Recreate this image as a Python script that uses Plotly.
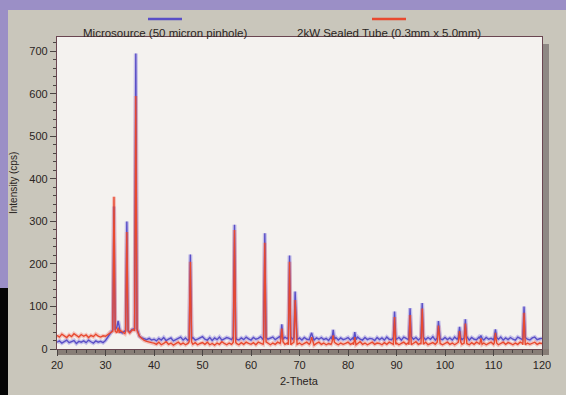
import plotly.graph_objects as go

# ---------------- data ----------------
series_names = ["Microsource (50 micron pinhole)", "2kW Sealed Tube (0.3mm x 5.0mm)"]

grid_start = 20.0
grid_step = 0.5

micro_baseline = [
    16, 19, 14, 18, 21, 15, 17, 20, 13, 18, 16, 19, 15, 21, 17, 14, 19, 16, 18, 15,
    20, 28, 38, 42, 45, 52, 40, 38, 42, 44, 40, 46, 48, 35, 30, 26, 24, 22, 25, 21,
    23, 19, 25, 21, 27, 20, 23, 26, 19, 22, 25, 28, 21, 26, 20, 24, 27, 21, 23, 26,
    29, 23, 21, 27, 20, 26, 22, 28, 21, 24, 27, 25, 22, 29, 23, 21, 26, 22, 28, 24,
    21, 27, 23, 25, 29, 22, 27, 23, 25, 28, 22, 26, 30, 23, 28, 24, 29, 23, 27, 22,
    26, 21, 27, 23, 22, 28, 21, 26, 23, 27, 22, 25, 20, 28, 23, 27, 21, 26, 22, 24,
    27, 21, 26, 22, 28, 23, 21, 27, 22, 25, 24, 20, 27, 22, 26, 21, 28, 23, 22, 27,
    23, 27, 21, 28, 25, 22, 29, 23, 27, 21, 26, 28, 22, 27, 23, 29, 21, 26, 24, 22,
    27, 22, 26, 21, 28, 23, 27, 22, 26, 29, 21, 27, 23, 22, 28, 25, 21, 27, 23, 25,
    22, 27, 23, 28, 21, 26, 22, 27, 23, 21, 28, 25, 22, 27, 23, 21, 26, 28, 22, 24,
    25,
]

sealed_baseline = [
    32, 28, 35, 30, 27, 33, 29, 36, 31, 28, 34, 30, 33, 27, 32, 29, 35, 30, 28, 31,
    30, 34, 40, 46, 42, 38, 44, 40, 36, 42, 38, 45, 44, 40, 30, 24, 20, 18, 16, 15,
    14, 11, 16, 10, 13, 17, 11, 14, 9, 13, 16, 11, 14, 10, 13, 17, 11, 15, 10, 13,
    15, 11, 16, 10, 13, 9, 14, 11, 17, 13, 10, 14, 11, 16, 13, 10, 15, 11, 16, 13,
    11, 15, 10, 16, 13, 11, 17, 13, 10, 14, 11, 16, 13, 17, 11, 14, 10, 13, 16, 11,
    14, 10, 13, 16, 11, 15, 9, 13, 16, 11, 14, 10, 13, 11, 16, 13, 10, 14, 11, 13,
    16, 11, 14, 10, 13, 17, 11, 14, 10, 13, 16, 11, 14, 13, 10, 15, 11, 16, 13, 11,
    14, 10, 13, 16, 11, 15, 10, 13, 17, 11, 14, 11, 16, 10, 13, 15, 11, 16, 13, 10,
    13, 16, 11, 14, 10, 13, 16, 11, 14, 13, 10, 15, 11, 16, 13, 11, 14, 10, 13, 16,
    11, 14, 10, 13, 16, 11, 15, 13, 10, 14, 11, 16, 13, 10, 14, 11, 13, 16, 11, 14,
    13,
]

peak_positions = [31.75, 32.6, 34.4, 36.25, 47.5, 56.6, 62.85, 66.35, 67.95, 69.1, 72.5,
                  76.95, 81.4, 89.6, 92.8, 95.3, 98.65, 103.0, 104.2, 107.4, 110.4, 116.3]
micro_peaks = [335, 66, 300, 695, 222, 292, 272, 58, 220, 135, 38,
               45, 40, 88, 96, 108, 66, 52, 70, 32, 46, 100]
sealed_peaks = [358, 50, 275, 595, 205, 280, 250, 48, 205, 115, 28,
                32, 28, 75, 80, 95, 55, 42, 60, 25, 38, 85]

x_ticks = [20, 30, 40, 50, 60, 70, 80, 90, 100, 110, 120]
y_ticks = [0, 100, 200, 300, 400, 500, 600, 700]

# ---------------- build traces ----------------
HALF = 0.25


def build(baseline, heights):
    pts = []
    for i, v in enumerate(baseline):
        x = grid_start + i * grid_step
        if any(abs(x - c) <= HALF + 0.02 for c in peak_positions):
            continue
        pts.append((x, v))
    for c, h in zip(peak_positions, heights):
        idx = int(round((c - grid_start) / grid_step))
        b = baseline[idx]
        pts.append((c - HALF, b))
        pts.append((c, h))
        pts.append((c + HALF, b))
    pts.sort()
    return [p[0] for p in pts], [p[1] for p in pts]


mx, my = build(micro_baseline, micro_peaks)
sx, sy = build(sealed_baseline, sealed_peaks)

BLUE = "#5a4fc6"
RED = "#e8492f"

fig = go.Figure()
fig.add_trace(go.Scatter(x=mx, y=my, mode="lines", line=dict(color="rgba(140,130,225,0.45)", width=4),
                         hoverinfo="skip", showlegend=False))
fig.add_trace(go.Scatter(x=sx, y=sy, mode="lines", line=dict(color="rgba(240,140,130,0.45)", width=4),
                         hoverinfo="skip", showlegend=False))
fig.add_trace(go.Scatter(x=mx, y=my, mode="lines", name=series_names[0],
                         line=dict(color=BLUE, width=1.4), showlegend=False))
fig.add_trace(go.Scatter(x=sx, y=sy, mode="lines", name=series_names[1],
                         line=dict(color=RED, width=1.4), showlegend=False))

# ---------------- layout ----------------
L, R, T, B = 57, 24, 37, 46
W, H = 566, 395
PW, PH = W - L - R, H - T - B


def px(p):
    return (p - L) / PW


def py(p):
    return (T + PH - p) / PH


FONT = "Liberation Sans, Arial, sans-serif"
TXT = "#2a2422"

shapes = [
    dict(type="rect", xref="paper", yref="paper", x0=px(-20), x1=px(W + 20), y0=py(10), y1=py(-20),
         fillcolor="#9b8fc6", line=dict(width=0), layer="below"),
    dict(type="rect", xref="paper", yref="paper", x0=px(-20), x1=px(8), y0=py(288), y1=py(10),
         fillcolor="#9b8fc6", line=dict(width=0), layer="below"),
    dict(type="rect", xref="paper", yref="paper", x0=px(-20), x1=px(8), y0=py(H + 20), y1=py(288),
         fillcolor="#050505", line=dict(width=0), layer="below"),
    dict(type="rect", xref="paper", yref="paper", x0=px(542), x1=px(549), y0=py(355), y1=py(44),
         fillcolor="#8e8884", line=dict(width=0), layer="below"),
    dict(type="rect", xref="paper", yref="paper", x0=px(57), x1=px(549), y0=py(355), y1=py(349),
         fillcolor="#877d76", line=dict(width=0), layer="below"),
    dict(type="line", xref="paper", yref="paper", x0=px(148), x1=px(182), y0=py(19), y1=py(19),
         line=dict(color=BLUE, width=2.5)),
    dict(type="line", xref="paper", yref="paper", x0=px(372), x1=px(406), y0=py(19), y1=py(19),
         line=dict(color=RED, width=2.5)),
]

annotations = [
    dict(text=series_names[0], xref="paper", yref="paper", x=px(165), y=py(33), showarrow=False,
         xanchor="center", yanchor="middle", font=dict(family=FONT, size=11.5, color=TXT)),
    dict(text=series_names[1], xref="paper", yref="paper", x=px(389), y=py(33), showarrow=False,
         xanchor="center", yanchor="middle", font=dict(family=FONT, size=11.5, color=TXT)),
    dict(text="2-Theta", xref="paper", yref="paper", x=px(299), y=py(381), showarrow=False,
         xanchor="center", yanchor="middle", font=dict(family=FONT, size=11, color=TXT)),
    dict(text="Intensity (cps)", xref="paper", yref="paper", x=px(13), y=py(183), showarrow=False,
         textangle=-90, xanchor="center", yanchor="middle", font=dict(family=FONT, size=10, color=TXT)),
]

fig.update_layout(
    width=W, height=H,
    margin=dict(l=L, r=R, t=T, b=B),
    paper_bgcolor="#c9c6bb",
    plot_bgcolor="#f4f2ef",
    shapes=shapes,
    annotations=annotations,
    showlegend=False,
    font=dict(family=FONT, size=11, color=TXT),
)
fig.update_xaxes(
    range=[20, 120], tickvals=x_ticks, ticktext=[str(v) for v in x_ticks],
    ticks="outside", ticklen=6, tickcolor="#4a4442", tickwidth=1,
    showline=True, linecolor="#6a4651", linewidth=1.2, mirror=True,
    showgrid=False, zeroline=False,
    tickfont=dict(family=FONT, size=11, color=TXT),
    minor=dict(dtick=2, ticks="outside", ticklen=3, tickcolor="#4a4442"),
)
fig.update_yaxes(
    range=[0, 734], tickvals=y_ticks, ticktext=[str(v) for v in y_ticks],
    ticks="outside", ticklen=6, tickcolor="#4a4442", tickwidth=1,
    showline=True, linecolor="#6a4651", linewidth=1.2, mirror=True,
    showgrid=False, zeroline=False,
    tickfont=dict(family=FONT, size=11, color=TXT),
    minor=dict(dtick=20, ticks="outside", ticklen=3, tickcolor="#4a4442"),
)

fig.write_html(
    "out.html",
    config={"displayModeBar": False},
    post_script="document.body.style.margin='0';document.body.style.overflow='hidden';",
)
